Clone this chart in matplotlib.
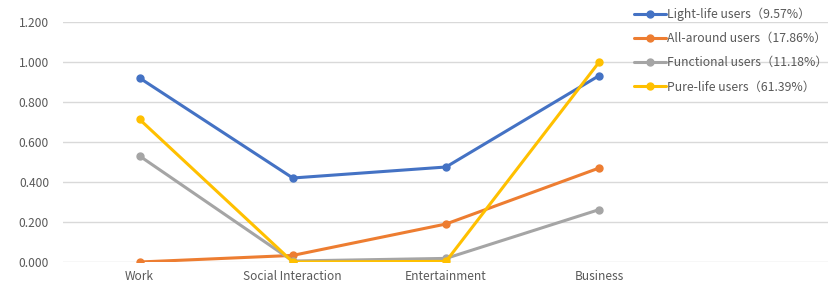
import numpy as np
import matplotlib as mpl
mpl.use("Agg")
import matplotlib.pyplot as plt

plt.rcParams['font.family'] = ['Noto Sans CJK SC', 'DejaVu Sans']

categories = ['Work', 'Social Interaction', 'Entertainment', 'Business']
light_life = [0.920, 0.420, 0.475, 0.932]
all_around = [0.000, 0.033, 0.190, 0.470]
functional = [0.530, 0.005, 0.018, 0.262]
pure_life = [0.713, 0.000, 0.003, 1.000]

series = [
    ('Light-life users（9.57%）', light_life, '#4472C4'),
    ('All-around users（17.86%）', all_around, '#ED7D31'),
    ('Functional users（11.18%）', functional, '#A5A5A5'),
    ('Pure-life users（61.39%）', pure_life, '#FFC000'),
]

fig = plt.figure(figsize=(8.29, 2.88), dpi=100)
ax = fig.add_axes([63/829, 26/288, 1 - 63/829, 240/288])

x = np.arange(len(categories))
for label, vals, col in series:
    ax.plot(x, vals, color=col, lw=2.2, marker='o', ms=5, label=label,
            solid_capstyle='round')

ax.set_xlim(-0.5, 4.5)
ax.set_ylim(0, 1.2)
ax.set_yticks(np.arange(0, 1.21, 0.2))
ax.set_yticklabels(['%.3f' % v for v in np.arange(0, 1.21, 0.2)])
ax.set_xticks(x)
ax.set_xticklabels(categories)
ax.tick_params(length=0, labelsize=8.6, labelcolor='#595959', pad=6)
ax.tick_params(axis='y', pad=10)
for s in ax.spines.values():
    s.set_visible(False)
ax.grid(axis='y', color='#D9D9D9', lw=1)
ax.set_axisbelow(True)

leg = fig.legend(loc='upper left', bbox_to_anchor=(627/829, 1.0), frameon=False,
                 fontsize=8.8, labelspacing=0.92, handlelength=2.6, handletextpad=0.1,
                 borderaxespad=0.2)
for t in leg.get_texts():
    t.set_color('#595959')

fig.savefig('out.png', dpi=100)
